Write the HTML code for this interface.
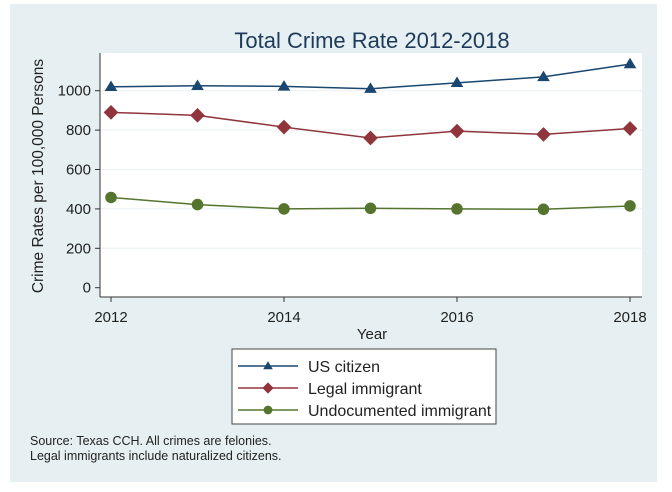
<!DOCTYPE html>
<html><head><meta charset="utf-8"><style>
body{margin:0;background:#fff;}
svg{display:block;font-family:"Liberation Sans",sans-serif;}
</style></head><body>
<svg id="c" width="672" height="492">
<rect x="10" y="4" width="647" height="478" fill="#e6f0f2"/>
<rect x="100" y="53" width="542" height="244" fill="#ffffff"/>
<text x="372" y="48" font-size="22" text-anchor="middle" fill="#1e3a5a">Total Crime Rate 2012-2018</text>
<text transform="translate(43,176) rotate(-90)" font-size="15.5" text-anchor="middle" fill="#222">Crime Rates per 100,000 Persons</text>
<text x="372" y="339" font-size="15" text-anchor="middle" fill="#222">Year</text>
<g id="axes"></g>
<g id="series"></g>
<rect x="232" y="349" width="264" height="75" fill="#fff" stroke="#444" stroke-width="1"/>
<g id="legend"></g>
<text x="30" y="445" font-size="12.5" fill="#222">Source: Texas CCH. All crimes are felonies.</text>
<text x="30" y="460" font-size="12.5" fill="#222">Legal immigrants include naturalized citizens.</text>
</svg>
<script>
const years=[2012,2013,2014,2015,2016,2017,2018];
const usCitizen=[1020,1025,1022,1010,1040,1070,1135];
const legalImmigrant=[890,875,815,760,795,778,808];
const undocumented=[458,422,400,403,400,398,415];
const yTicks=[0,200,400,600,800,1000];
const xTicks=[2012,2014,2016,2018];
const NS="http://www.w3.org/2000/svg";
const X=v=>111+(v-2012)*86.5;
const Y=v=>287.7-v*0.197;
function mk(t,a,p){const e=document.createElementNS(NS,t);for(const k in a)e.setAttribute(k,a[k]);p.appendChild(e);return e;}
const ax=document.getElementById('axes');
yTicks.forEach(v=>{
 if(v>0){const g=mk('line',{x1:100,x2:642,y1:Y(v),y2:Y(v),stroke:'#eaf1f3','stroke-width':1},ax);
 
 }
 const t=mk('line',{x1:95,x2:100,y1:Y(v),y2:Y(v),stroke:'#333'},ax);
 
 
 const l=mk('text',{x:91,y:Y(v)+5,'font-size':15,'text-anchor':'end',fill:'#222'},ax);l.textContent=v;
 
 
});
xTicks.forEach(v=>{
 const t=mk('line',{x1:X(v),x2:X(v),y1:297,y2:302,stroke:'#333'},ax);
 
 
 const l=mk('text',{x:X(v),y:322,'font-size':15,'text-anchor':'middle',fill:'#222'},ax);l.textContent=v;
 
 
});
const ya=mk('line',{x1:100,x2:100,y1:53,y2:297,stroke:'#333'},ax);


const xa=mk('line',{x1:100,x2:642,y1:297,y2:297,stroke:'#333'},ax);


function marker(shape,x,y,c,p,k){
 if(shape==='tri') return mk('polygon',{points:`${x},${y-6*k} ${x-6*k},${y+4*k} ${x+6*k},${y+4*k}`,fill:c},p);
 if(shape==='dia') return mk('polygon',{points:`${x},${y-7*k} ${x+7*k},${y} ${x},${y+7*k} ${x-7*k},${y}`,fill:c},p);
 return mk('circle',{cx:x,cy:y,r:5.5*k,fill:c},p);
}
const sg=document.getElementById('series');
const series=[[usCitizen,'#1a476f','tri','us-citizen'],[legalImmigrant,'#90353b','dia','legal-immigrant'],[undocumented,'#55752f','dot','undocumented-immigrant']];
series.forEach(([d,c,s,n])=>{
 const pl=mk('polyline',{points:d.map((v,i)=>X(years[i])+','+Y(v)).join(' '),fill:'none',stroke:c,'stroke-width':1.5},sg);
 
 
 d.forEach((v,i)=>{const m=marker(s,X(years[i]),Y(v),c,sg,1.05);
 
 });
});
const lg=document.getElementById('legend');
const names=['US citizen','Legal immigrant','Undocumented immigrant'];
series.forEach(([d,c,s,n],i)=>{
 const y=366+i*22;
 const l=mk('line',{x1:238,x2:298,y1:y,y2:y,stroke:c,'stroke-width':1.5},lg);
 
 
 const m=marker(s,268,y,c,lg,0.8);
 
 
 const t=mk('text',{x:308,y:y+6,'font-size':16,fill:'#222'},lg);t.textContent=names[i];
 
 
});
</script>
</body></html>
